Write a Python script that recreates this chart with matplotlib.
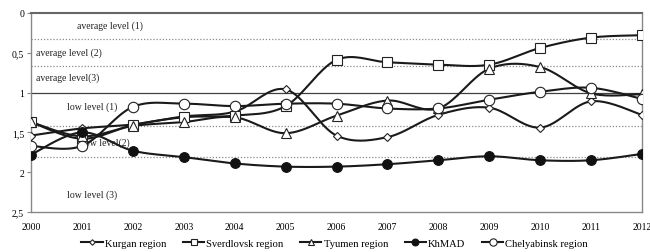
import numpy as np
import matplotlib
matplotlib.use("Agg")
import matplotlib.pyplot as plt
from matplotlib.lines import Line2D

years = list(range(2000, 2013))
kurgan = [1.54, 1.45, 1.40, 1.30, 1.24, 0.96, 1.54, 1.56, 1.28, 1.19, 1.44, 1.11, 1.28]
sverdlovsk = [1.37, 1.58, 1.41, 1.31, 1.29, 1.17, 0.59, 0.62, 0.65, 0.65, 0.44, 0.31, 0.28]
tyumen = [1.37, 1.55, 1.42, 1.37, 1.31, 1.51, 1.29, 1.10, 1.20, 0.70, 0.68, 1.01, 1.02]
khmad = [1.78, 1.50, 1.73, 1.81, 1.89, 1.93, 1.93, 1.90, 1.85, 1.80, 1.85, 1.85, 1.77]
chelyabinsk = [1.67, 1.67, 1.18, 1.14, 1.17, 1.14, 1.14, 1.20, 1.20, 1.09, 0.99, 0.94, 1.08]

level_lines = [0.33, 0.67, 1.0, 1.42, 1.81]
level_styles = ['dotted', 'dotted', 'solid', 'dotted', 'dotted']
level_texts = ["average level (1)", "average level (2)", "average level(3)",
               "low level (1)", "low level(2)", "low level (3)"]
level_text_pos = [(2000.9, 0.15), (2000.1, 0.49), (2000.1, 0.81),
                  (2000.7, 1.17), (2001.0, 1.62), (2000.7, 2.27)]
yticks = [0, 0.5, 1, 1.5, 2, 2.5]
ytick_labels = ["0", "0,5", "1", "1,5", "2", "2,5"]

plt.rcParams['font.family'] = ['Liberation Serif', 'DejaVu Serif']


def smooth(x, y, n=20):
    x = np.asarray(x, float)
    y = np.asarray(y, float)
    px = np.concatenate([[x[0]], x, [x[-1]]])
    py = np.concatenate([[y[0]], y, [y[-1]]])
    xs, ys = [], []
    for i in range(1, len(px) - 2):
        p0 = np.array([px[i - 1], py[i - 1]])
        p1 = np.array([px[i], py[i]])
        p2 = np.array([px[i + 1], py[i + 1]])
        p3 = np.array([px[i + 2], py[i + 2]])
        c1 = p1 + (p2 - p0) / 6.0
        c2 = p2 - (p3 - p1) / 6.0
        t = np.linspace(0, 1, n)[:, None]
        b = ((1 - t) ** 3) * p1 + 3 * ((1 - t) ** 2) * t * c1 + 3 * (1 - t) * t ** 2 * c2 + t ** 3 * p2
        xs.extend(b[:, 0])
        ys.extend(b[:, 1])
    return xs, ys


fig = plt.figure(figsize=(6.5, 2.53), dpi=100)
ax = fig.add_axes([0.0477, 0.158, 0.94, 0.787])

for lv, st in zip(level_lines, level_styles):
    if st == 'solid':
        ax.axhline(lv, color='#404040', lw=0.9, zorder=1)
    else:
        ax.axhline(lv, color='#8a8a8a', lw=0.9, ls=(0, (1, 1.5)), zorder=1)

for txt, (tx, ty) in zip(level_texts, level_text_pos):
    ax.text(tx, ty, txt, fontsize=7, color='#222222', va='center', ha='left', zorder=2)

series = [
    ("Kurgan region", kurgan, dict(marker='D', ms=4, mfc='white', mec='#222222', mew=0.8)),
    ("Sverdlovsk region", sverdlovsk, dict(marker='s', ms=6.5, mfc='white', mec='#222222', mew=0.8)),
    ("Tyumen region", tyumen, dict(marker='^', ms=6.5, mfc='white', mec='#222222', mew=0.8)),
    ("KhMAD", khmad, dict(marker='o', ms=7, mfc='#111111', mec='#111111', mew=0.8)),
    ("Chelyabinsk region", chelyabinsk, dict(marker='o', ms=7.5, mfc='white', mec='#222222', mew=0.8)),
]

handles = []
for name, vals, mk in series:
    sx, sy = smooth(years, vals)
    ax.plot(sx, sy, color='#1a1a1a', lw=1.5, zorder=3)
    ax.plot(years, vals, ls='none', zorder=4, **mk)
    hmk = dict(mk)
    hmk['ms'] = mk['ms'] * 0.7
    handles.append(Line2D([0], [0], color='#1a1a1a', lw=1.5, **hmk))

ax.set_xlim(2000, 2012)
ax.set_ylim(2.5, 0)
ax.set_xticks(years)
ax.set_xticklabels([str(y) for y in years], fontsize=7)
ax.set_yticks(yticks)
ax.set_yticklabels(ytick_labels, fontsize=7)
ax.tick_params(axis='y', length=3, width=0.8, color='#888888', pad=2)
ax.tick_params(axis='x', length=0, pad=7)

for s in ['left', 'bottom', 'right']:
    ax.spines[s].set_color('#888888')
    ax.spines[s].set_linewidth(1.0)
ax.spines['top'].set_color('#666666')
ax.spines['top'].set_linewidth(1.5)

fig.legend(handles, [s[0] for s in series], loc='lower center', ncol=5,
           bbox_to_anchor=(0.515, -0.02), frameon=False, fontsize=7.6,
           handlelength=2.0, handletextpad=0.2, columnspacing=1.6)

fig.savefig("out.png", dpi=100)
